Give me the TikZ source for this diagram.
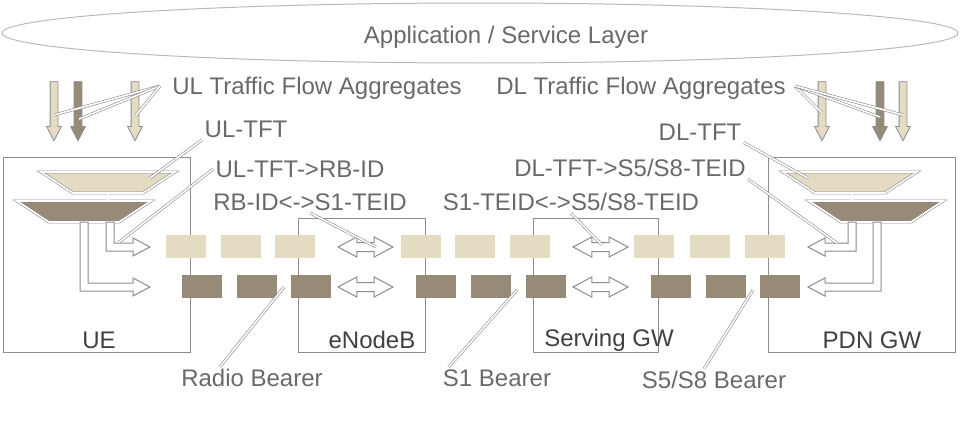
\documentclass[tikz,border=0pt]{standalone}
\usepackage{fontspec}
\setmainfont{Liberation Sans}
\usetikzlibrary{shapes,arrows}
\definecolor{lightbrg}{RGB}{227,220,194}
\definecolor{darkbrg}{RGB}{151,139,120}
\definecolor{linegray}{RGB}{140,140,140}
\definecolor{txtgray}{RGB}{105,105,105}
\tikzstyle{cell} = [rectangle, minimum width=20pt, minimum height=11.5pt, inner sep=0pt]
\tikzstyle{lightcell} = [cell, fill=lightbrg]
\tikzstyle{darkcell} = [cell, fill=darkbrg]
\tikzstyle{netbox} = [rectangle, draw=linegray, line width=.5pt]
\tikzstyle{boxlabel} = [text=black!75, inner sep=0pt]
\tikzstyle{labeltext} = [text=txtgray, inner sep=1pt]
\tikzstyle{leader} = [draw=linegray, double=white, double distance=.8pt, line width=.3pt]
\tikzstyle{tft} = [draw=linegray, double=white, double distance=.8pt, line width=.3pt]
\tikzstyle{hollow} = [draw=linegray, fill=white, line width=.5pt]
\tikzstyle{flow} = [single arrow, draw=linegray, line width=.4pt, shape border rotate=270,
    minimum height=29.5pt, inner sep=1.75pt, single arrow head extend=1.75pt, single arrow tip angle=55]
\tikzstyle{twoway} = [double arrow, draw=linegray, fill=white, line width=.5pt,
    minimum height=27.5pt, inner sep=2pt, double arrow head extend=2.75pt, double arrow tip angle=56]

\begin{document}
\begin{tikzpicture}[x=0.5pt, y=-0.5pt, every node/.style={font=\fontsize{12}{14}\selectfont}]
    \useasboundingbox (0,0) rectangle (960,423);

    % service layer
    \node[ellipse, draw=gray!55, line width=.5pt, minimum width=478pt, minimum height=30pt] (app) at (480,33) {};
    \node[labeltext] (applabel) at (506,37) {Application / Service Layer};

    % network elements
    \node[netbox, minimum width=93.5pt, minimum height=97.5pt] (ue) at (96.5,254.5) {};
    \node[netbox, minimum width=63.5pt, minimum height=67pt] (enb) at (361.5,285) {};
    \node[netbox, minimum width=62.5pt, minimum height=67pt] (sgw) at (595.5,285) {};
    \node[netbox, minimum width=93.5pt, minimum height=97.5pt] (pgw) at (861.5,254.5) {};

    % TFT filters
    \draw[tft, fill=lightbrg] (41,172) -- (175,172) -- (143,193) -- (73,193) -- cycle;
    \draw[tft, fill=darkbrg] (17,201) -- (151,201) -- (119,222) -- (49,222) -- cycle;
    \draw[tft] (108,193) -- (108,201);
    \draw[tft, fill=lightbrg] (783,172) -- (917,172) -- (885,193) -- (815,193) -- cycle;
    \draw[tft, fill=darkbrg] (809,201) -- (943,201) -- (911,222) -- (841,222) -- cycle;
    \draw[tft] (852,193) -- (852,201);

    \draw[hollow] (106,222) -- (106,251) -- (133,251) -- (133,256) -- (150,247) -- (133,238) -- (133,243) -- (114,243) -- (114,222) -- cycle;
    \draw[hollow] (80,222) -- (80,291) -- (133,291) -- (133,296) -- (150,287) -- (133,278) -- (133,283) -- (88,283) -- (88,222) -- cycle;
    \draw[hollow] (856,222) -- (856,251) -- (825,251) -- (825,256) -- (808,247) -- (825,238) -- (825,243) -- (848,243) -- (848,222) -- cycle;
    \draw[hollow] (881,222) -- (881,291) -- (825,291) -- (825,296) -- (808,287) -- (825,278) -- (825,283) -- (873,283) -- (873,222) -- cycle;

    % bearers
    \foreach \x in {186,241,295,421,475,530,654,710,765}
      \node[lightcell] (top\x) at (\x,246.5) {};
    \foreach \x in {202,257,311,436,491,546,671,726,780}
      \node[darkcell] (bot\x) at (\x,286.5) {};

    \node[twoway] (rbswap) at (365.5,247) {};
    \node[twoway] (rbswapdl) at (365.5,287) {};
    \node[twoway] (s1swap) at (600.5,247) {};
    \node[twoway] (s1swapdl) at (600.5,287) {};

    % traffic flow aggregates
    \node[flow, fill=lightbrg] (ulflowa) at (54,107.5) {};
    \node[flow, fill=darkbrg] (ulflowb) at (78,107.5) {};
    \node[flow, fill=lightbrg] (ulflowc) at (135,107.5) {};
    \node[flow, fill=lightbrg] (dlflowa) at (822,107.5) {};
    \node[flow, fill=darkbrg] (dlflowb) at (880,107.5) {};
    \node[flow, fill=lightbrg] (dlflowc) at (903,107.5) {};

    % labels
    \node[labeltext] (ulagg) at (317,88) {UL Traffic Flow Aggregates};
    \node[labeltext] (dlagg) at (641,88) {DL Traffic Flow Aggregates};
    \node[labeltext] (ultft) at (246,129) {UL-TFT};
    \node[labeltext] (ulmap) at (300,169) {UL-TFT->RB-ID};
    \node[labeltext] (rbmap) at (310,202) {RB-ID<->S1-TEID};
    \node[labeltext] (s1map) at (571,202) {S1-TEID<->S5/S8-TEID};
    \node[labeltext] (dlmap) at (630,168) {DL-TFT->S5/S8-TEID};
    \node[labeltext] (dltft) at (700,132) {DL-TFT};
    \node[labeltext] (rblabel) at (252,378) {Radio Bearer};
    \node[labeltext] (s1label) at (497,378) {S1 Bearer};
    \node[labeltext] (s5label) at (714,380) {S5/S8 Bearer};

    \node[boxlabel] (uelabel) at (99,340) {UE};
    \node[boxlabel] (enblabel) at (372,340) {eNodeB};
    \node[boxlabel] (sgwlabel) at (609,340) {Serving GW};
    \node[boxlabel] (pgwlabel) at (872,340) {PDN GW};

    % leaders
    \coordinate (ulfan) at (160,86);
    \coordinate (dlfan) at (795,86);
    \coordinate (ultftend) at (150,178);
    \coordinate (ulmapend) at (118,243);
    \coordinate (rbmapend) at (376,247);
    \coordinate (s1mapend) at (602,245);
    \coordinate (dlmapend) at (837,243);
    \coordinate (dltftend) at (808,178);
    \coordinate (rbend) at (284,287);
    \coordinate (s1end) at (517,290);
    \coordinate (s5end) at (753,290);

    \draw[leader] (ulfan) -- (54,115);
    \draw[leader] (ulfan) -- (79,119);
    \draw[leader] (ulfan) -- (136,115);
    \draw[leader] (dlfan) -- (822,113);
    \draw[leader] (dlfan) -- (880,117);
    \draw[leader] (dlfan) -- (903,115);
    \draw[leader] (ultft.south west) -- (ultftend);
    \draw[leader] (ulmap.west) -- (ulmapend);
    \draw[leader] (rbmap.south) -- (rbmapend);
    \draw[leader] (s1map.south) -- (s1mapend);
    \draw[leader] (dlmap.south east) -- (dlmapend);
    \draw[leader] (dltft.south east) -- (dltftend);
    \draw[leader] ([xshift=-16pt]rblabel.north) -- (rbend);
    \draw[leader] ([xshift=4pt]s1label.north west) -- (s1end);
    \draw[leader] ([xshift=-5pt]s5label.north) -- (s5end);
\end{tikzpicture}
\end{document}
